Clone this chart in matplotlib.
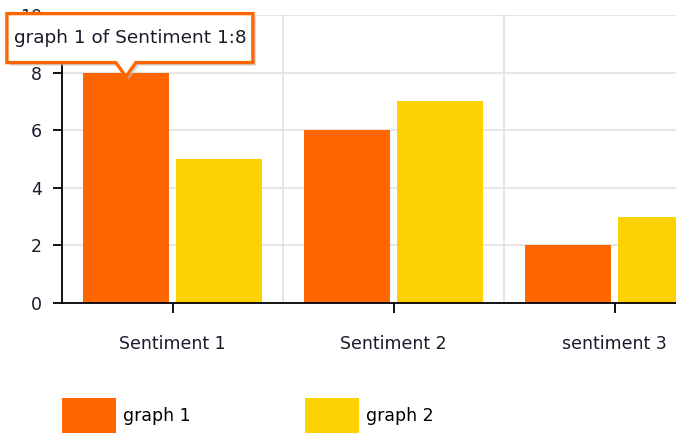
import matplotlib
matplotlib.use("Agg")
import matplotlib.pyplot as plt
from matplotlib.patches import Polygon
from matplotlib.transforms import IdentityTransform

categories = ["Sentiment 1", "Sentiment 2", "sentiment 3"]
graph1 = [8, 6, 2]
graph2 = [5, 7, 3]
series_names = ["graph 1", "graph 2"]
tooltip_text = "graph 1 of Sentiment 1:8"

ORANGE = "#FF6600"
YELLOW = "#FCD202"
GRID = "#e2e2e2"
FS = 12.5

W, H = 676, 434
fig = plt.figure(figsize=(W / 100, H / 100), dpi=100)
ax = fig.add_axes([62 / W, 1 - 303 / H, (725 - 62) / W, (303 - 15) / H])

x = list(range(len(categories)))
bw = 0.386
off = 0.211
b1 = ax.bar([i - off for i in x], graph1, bw, color=ORANGE, label=series_names[0], zorder=2)
b2 = ax.bar([i + off for i in x], graph2, bw, color=YELLOW, label=series_names[1], zorder=2)

ax.set_xlim(-0.5, len(categories) - 0.5)
ax.set_ylim(0, 10)
ax.set_yticks([0, 2, 4, 6, 8, 10])
ax.set_xticks(x)
ax.set_xticklabels(categories)

# grid: horizontal at y ticks, vertical at category boundaries
for yv in [2, 4, 6, 8, 10]:
    ax.axhline(yv, color=GRID, lw=1.2, zorder=0)
for xv in [0.5, 1.5]:
    ax.axvline(xv, color=GRID, lw=1.2, zorder=0)

for s in ["top", "right"]:
    ax.spines[s].set_visible(False)
for s in ["left", "bottom"]:
    ax.spines[s].set_color("black")
    ax.spines[s].set_linewidth(1.3)
    ax.spines[s].set_zorder(3)

ax.tick_params(axis="y", direction="out", length=6.5, width=1.3, pad=8,
               labelsize=FS, colors="black")
ax.tick_params(axis="x", direction="out", length=7, width=1.3, pad=16,
               labelsize=FS, colors="black")
for lbl in ax.get_xticklabels() + ax.get_yticklabels():
    lbl.set_color("#1a1a2a")

# legend below the chart
fig.legend(handles=[b1, b2], labels=series_names, loc="upper left",
           bbox_to_anchor=(62 / W, 1 - 398 / H), ncol=2, frameon=False,
           borderpad=0, borderaxespad=0, handlelength=3.1, handleheight=2.7,
           handletextpad=0.4, columnspacing=6.6, fontsize=FS)

# tooltip callout pointing at the first bar
fig.canvas.draw()
tx, ty = ax.transData.transform((0 - off, 8))
ty -= 4
left, right = tx - 119, tx + 127
bot, top = ty + 14, ty + 63
outline = [(left, bot), (left, top), (right, top), (right, bot),
           (tx + 10, bot), (tx, ty), (tx - 10, bot)]
shadow = [(px + 3, py - 3) for px, py in outline]
fig.add_artist(Polygon(shadow, closed=True, transform=IdentityTransform(),
                       facecolor="#bbbbbb", edgecolor="none", alpha=0.6, zorder=4))
fig.add_artist(Polygon(outline, closed=True, transform=IdentityTransform(),
                       facecolor="white", edgecolor=ORANGE, lw=2.4,
                       joinstyle="miter", zorder=5))
fig.add_artist(plt.Text(left + 7, (bot + top) / 2, tooltip_text,
                        transform=IdentityTransform(), ha="left", va="center",
                        fontsize=FS + 0.8, color="#1a1a2a", zorder=6))

fig.savefig("out.png", dpi=100)
